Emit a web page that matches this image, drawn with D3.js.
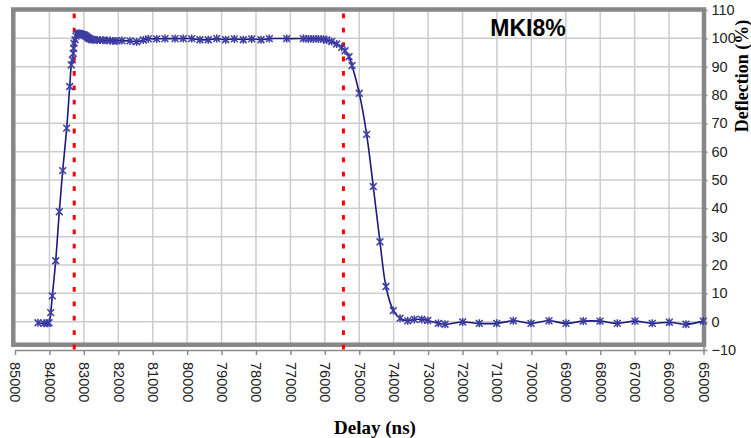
<!DOCTYPE html>
<html>
<head>
<meta charset="utf-8">
<script src="https://cdn.jsdelivr.net/npm/d3@7"></script>
<style>
  html, body { margin: 0; padding: 0; background: #fff; }
  svg { display: block; }
</style>
</head>
<body>
<svg id="chart" width="751" height="438"></svg>
<script>
// Kicker pulse measurement: deflection versus delay
const chartTitle = "MKI8%";
const xTitle = "Delay (ns)";
const yTitle = "Deflection (%)";

const delayNs = [
  84332, 84158, 84062, 84012, 83963, 83916, 83818, 83713, 83614, 83498,
  83411, 83364, 83335, 83306, 83295, 83286, 83257, 83228, 83199, 83170,
  83141, 83112, 83083, 83054, 83025, 82996, 82967, 82937, 82908, 82879,
  82850, 82821, 82778, 82734, 82618, 82531, 82444, 82327, 82240, 82153,
  82037, 81892, 81659, 81465, 81273, 81128, 80884, 80643, 80352, 80111,
  79867, 79626, 79385, 79141, 78880, 78630, 78368, 78124, 77854, 77613,
  77107, 76625, 76480, 76335, 76189, 76044, 75945, 75800, 75655, 75510,
  75414, 75297, 75210, 74998, 74785, 74593, 74398, 74224, 74010, 73816,
  73592, 73400, 73186, 73012, 72703, 72509, 71995, 71513, 71007, 70525,
  70011, 69488, 68994, 68491, 68007, 67504, 66990, 66488, 65994, 65509,
  65006
];
const deflectionPct = [
  -0.4, -0.6, -0.6, -0.4, 3.2, 9.1, 21.5, 38.8, 53.3, 68.3,
  83.0, 90.6, 92.4, 94.7, 96.5, 98.3, 99.5, 100.8, 101.4, 101.7,
  101.7, 101.6, 101.5, 101.4, 101.3, 101.2, 101.0, 100.8, 100.5, 100.2,
  100.0, 99.8, 99.6, 99.5, 99.4, 99.4, 99.3, 99.3, 99.2, 99.1,
  99.1, 99.2, 99.1, 98.8, 99.4, 99.8, 99.8, 99.9, 99.9, 99.9,
  99.9, 99.5, 99.5, 99.9, 99.5, 99.8, 99.5, 99.8, 99.5, 99.9,
  99.9, 99.9, 99.8, 99.8, 99.8, 99.7, 99.4, 98.9, 98.0, 96.8,
  95.6, 93.5, 90.4, 80.6, 66.1, 47.7, 28.2, 12.4, 3.9, 1.2,
  0.3, 0.8, 0.8, 0.4, -0.6, -0.9, -0.1, -0.6, -0.6, 0.3,
  -0.6, 0.3, -0.6, 0.2, 0.2, -0.6, 0.2, -0.6, -0.2, -0.9,
  0.2
];
// Rise / fall cursor positions (ns)
const cursorNs = [83280, 75460];

const xTicks = d3.range(85000, 64999, -1000);
const yTicks = d3.range(-10, 111, 10);
const gridX = d3.range(84000, 65999, -1000);
const gridY = d3.range(0, 101, 10);

const svg = d3.select("#chart");

const x = d3.scaleLinear().domain([85000, 65000]).range([15, 703.5]);
const y = d3.scaleLinear().domain([-10, 110]).range([350, 10]);

const borderTop = 9.5, borderBottom = 344.7, borderLeft = 13.3, borderRight = 704;

// grid
const grid = svg.append("g").attr("stroke", "#cdcdcd").attr("stroke-width", 1.5);
grid.selectAll("line.gx").data(gridX).join("line")
  .attr("x1", d => x(d)).attr("x2", d => x(d))
  .attr("y1", borderTop).attr("y2", borderBottom);
grid.selectAll("line.gy").data(gridY).join("line")
  .attr("x1", borderLeft).attr("x2", borderRight)
  .attr("y1", d => y(d)).attr("y2", d => y(d));

// axes
const xAxis = svg.append("g")
  .attr("transform", `translate(0,${y(-10)})`)
  .call(d3.axisBottom(x).tickValues(xTicks).tickSize(5).tickSizeOuter(0).tickFormat(d3.format("d")));
xAxis.select(".domain").attr("stroke", "#8a8a8a").attr("stroke-width", 1.5);
xAxis.selectAll(".tick line").attr("stroke", "#8a8a8a").attr("stroke-width", 1.5);
xAxis.selectAll(".tick text")
  .attr("font-family", "'Liberation Sans', Arial, sans-serif")
  .attr("font-size", 14.5)
  .attr("fill", "#222")
  .attr("text-anchor", "start")
  .attr("transform", "rotate(90)")
  .attr("x", 12)
  .attr("y", 0)
  .attr("dy", "0.35em");

const yAxis = svg.append("g")
  .attr("transform", `translate(${x(65000)},0)`)
  .call(d3.axisRight(y).tickValues(yTicks).tickSize(4).tickSizeOuter(0).tickPadding(4));
yAxis.select(".domain").attr("stroke", "#8a8a8a").attr("stroke-width", 1.5);
yAxis.selectAll(".tick line").attr("stroke", "#8a8a8a").attr("stroke-width", 1.5);
yAxis.selectAll(".tick text")
  .attr("font-family", "'Liberation Sans', Arial, sans-serif")
  .attr("font-size", 14.5)
  .attr("fill", "#222");

// plot frame
svg.append("rect")
  .attr("x", borderLeft).attr("y", borderTop)
  .attr("width", borderRight - borderLeft).attr("height", borderBottom - borderTop)
  .attr("fill", "none").attr("stroke", "#878787").attr("stroke-width", 4.5);

// cursors
svg.append("g").selectAll("line").data(cursorNs).join("line")
  .attr("x1", d => x(d)).attr("x2", d => x(d))
  .attr("y1", y(110)).attr("y2", y(-10) + 3)
  .attr("stroke", "#ff0000").attr("stroke-width", 3)
  .attr("stroke-dasharray", "4.8,9.6")
  .attr("stroke-dashoffset", 11);

// series
const pts = delayNs.map((d, i) => [d, deflectionPct[i]]);
const line = d3.line().x(d => x(d[0])).y(d => y(d[1])).curve(d3.curveCatmullRom.alpha(0.5));
svg.append("path").datum(pts)
  .attr("d", line)
  .attr("fill", "none").attr("stroke", "#1a1a80").attr("stroke-width", 1.6);

const s = 3.4;
const star = `M${-s},${-s}L${s},${s}M${-s},${s}L${s},${-s}M0,${-s - 0.6}L0,${s + 0.6}`;
svg.append("g").selectAll("path").data(pts).join("path")
  .attr("transform", d => `translate(${x(d[0])},${y(d[1])})`)
  .attr("d", star)
  .attr("fill", "none").attr("stroke", "#3d3da3").attr("stroke-width", 1.5);

// titles
svg.append("text")
  .attr("x", 528).attr("y", 36)
  .attr("text-anchor", "middle")
  .attr("font-family", "'Liberation Sans', Arial, sans-serif")
  .attr("font-weight", "bold").attr("font-size", 23)
  .attr("fill", "#000")
  .text(chartTitle);

svg.append("text")
  .attr("x", 375).attr("y", 434)
  .attr("text-anchor", "middle")
  .attr("font-family", "'Liberation Serif', 'Times New Roman', serif")
  .attr("font-weight", "bold").attr("font-size", 19)
  .attr("fill", "#000")
  .text(xTitle);

svg.append("text")
  .attr("transform", "translate(748,76) rotate(-90)")
  .attr("text-anchor", "middle")
  .attr("font-family", "'Liberation Serif', 'Times New Roman', serif")
  .attr("font-weight", "bold").attr("font-size", 18)
  .attr("fill", "#000")
  .text(yTitle);
</script>
</body>
</html>
